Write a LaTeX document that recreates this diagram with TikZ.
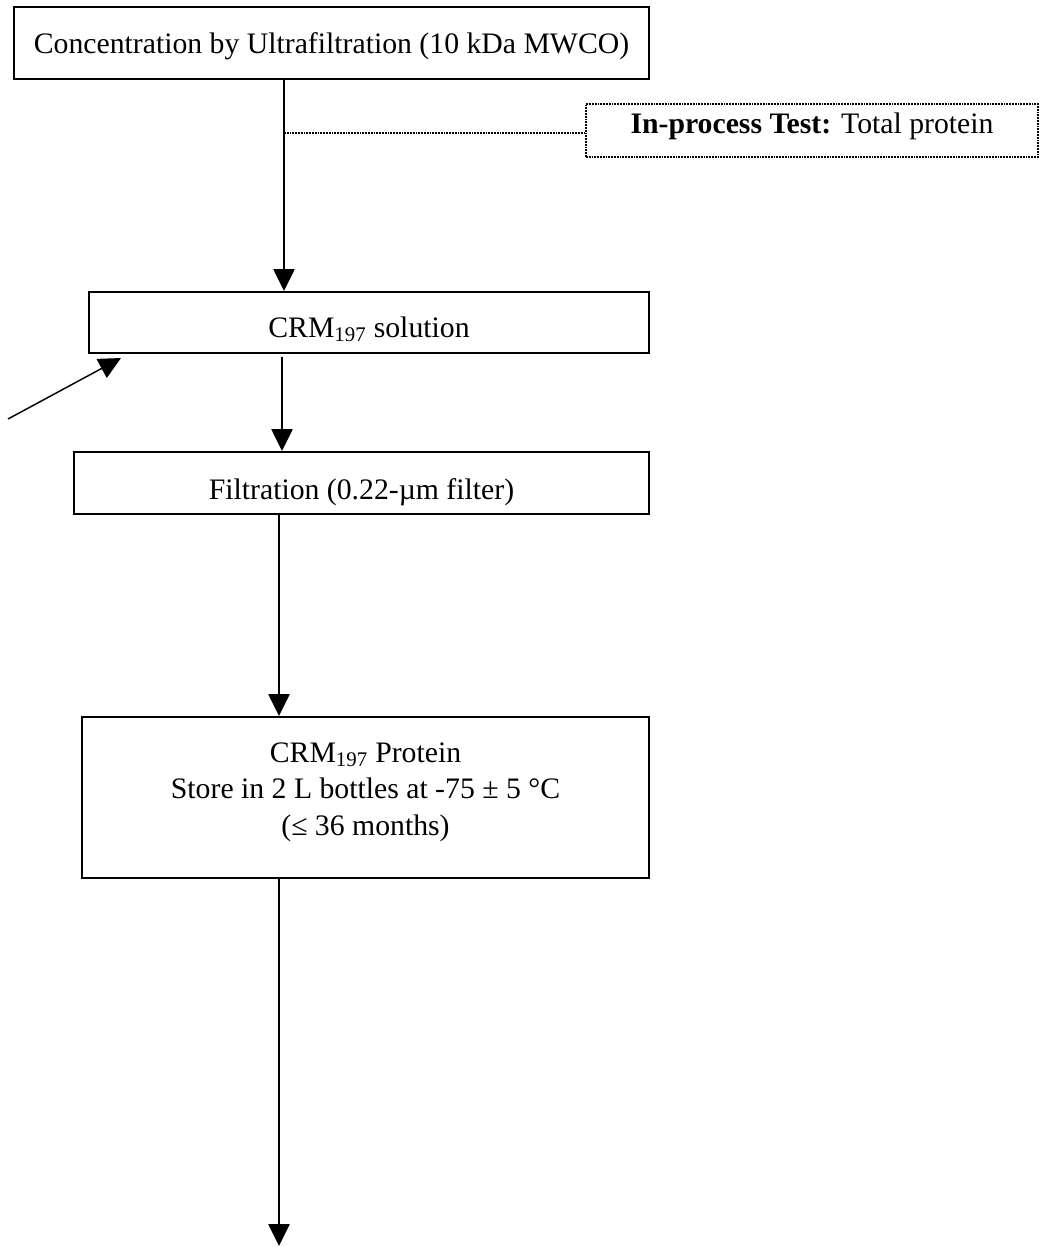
\documentclass[tikz,border=0pt]{standalone}
\usepackage{fontspec}
\setmainfont{Liberation Serif}
\usetikzlibrary{arrows.meta}
\begin{document}
\begin{tikzpicture}[x=0.75pt,y=-0.75pt,
  box/.style={draw,line width=1.5pt,inner sep=0pt},
  dotbox/.style={draw,line width=2.2pt,dash pattern=on 1.3pt off 0.8pt,inner sep=0pt},
  txt/.style={inner sep=0pt,align=center,font=\fontsize{22.3}{27.4}\selectfont},
  conn/.style={line width=1.1pt,-{Triangle[width=16pt,length=16.5pt]}},
  dotline/.style={line width=2pt,dash pattern=on 1.3pt off 0.8pt}]
\useasboundingbox[fill=white] (0,0) rectangle (1043,1247);
\node[box,minimum width=635*0.75pt,minimum height=72*0.75pt] (conc) at (331.5,43) {};
\node[txt] (conct) at (331.5,46) {Concentration by Ultrafiltration (10 kDa MWCO)};
\node[dotbox,minimum width=452*0.75pt,minimum height=53*0.75pt] (ipt) at (812,130.5) {};
\node[txt] (iptt) at (812,126) {\textbf{In-process Test:} Total protein};
\node[box,minimum width=560*0.75pt,minimum height=61*0.75pt] (sol) at (369,322.5) {};
\node[txt] (solt) at (369,329.5) {CRM\textsubscript{197} solution};
\node[box,minimum width=575*0.75pt,minimum height=62*0.75pt] (filt) at (361.5,483) {};
\node[txt] (filtt) at (361.5,492) {Filtration (0.22-µm filter)};
\node[box,minimum width=567*0.75pt,minimum height=161*0.75pt] (store) at (365.5,797.5) {};
\node[txt] (storet) at (365.5,792) {CRM\textsubscript{197} Protein\\Store in 2 L bottles at -75 ± 5 °C\\(≤ 36 months)};
\coordinate (x1) at (284,0);
\coordinate (x2) at (282,0);
\coordinate (x3) at (279,0);
\coordinate (tap) at (284,133);
\coordinate (in0) at (8,419);
\coordinate (in1) at (121,358);
\coordinate (b0) at (282,357);
\coordinate (d1) at (279,1246);
\draw[conn] (conc.south -| x1) -- (sol.north -| x1);
\draw[dotline] (tap) -- (ipt.west |- tap);
\draw[conn] (in0) -- (in1);
\draw[conn] (b0) -- (filt.north -| x2);
\draw[conn] (filt.south -| x3) -- (store.north -| x3);
\draw[conn] (store.south -| x3) -- (d1);
\end{tikzpicture}
\end{document}
